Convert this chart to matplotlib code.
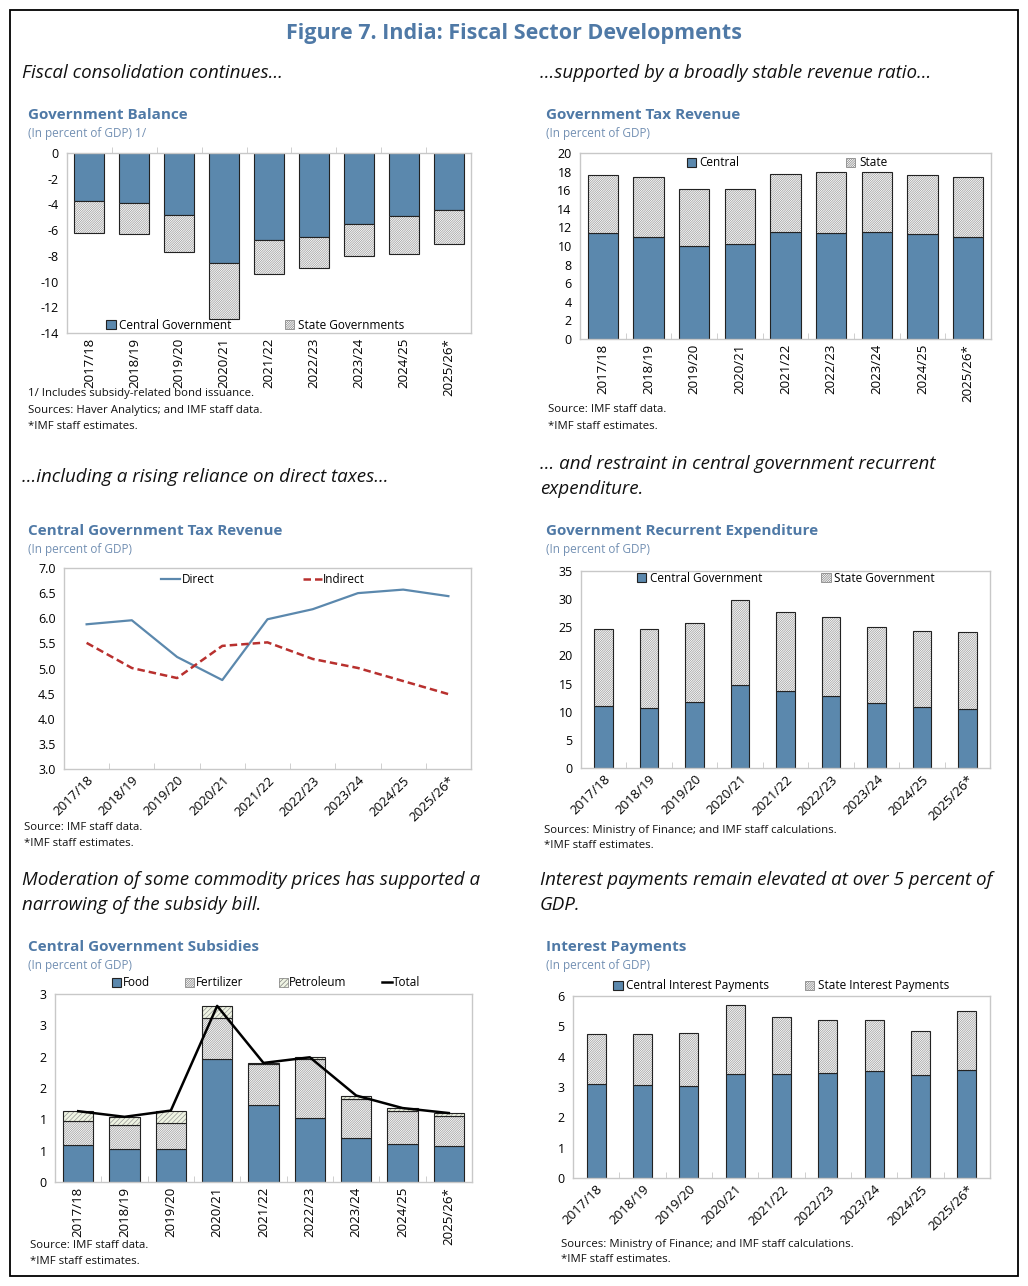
import numpy as np
import matplotlib
matplotlib.use('Agg')
import matplotlib.pyplot as plt
from matplotlib.patches import Patch, Rectangle
from matplotlib.lines import Line2D

plt.rcParams['font.family'] = ['Open Sans', 'DejaVu Sans']
plt.rcParams['axes.unicode_minus'] = False
plt.rcParams['hatch.color'] = '#8f8f8f'
plt.rcParams['hatch.linewidth'] = 0.45

years = ['2017/18', '2018/19', '2019/20', '2020/21', '2021/22',
         '2022/23', '2023/24', '2024/25', '2025/26*']

# Government balance (percent of GDP)
bal_central = [-3.72, -3.90, -4.80, -8.55, -6.74, -6.56, -5.50, -4.90, -4.42]
bal_state = [-2.48, -2.43, -2.90, -4.35, -2.69, -2.41, -2.54, -2.98, -2.68]

# Government tax revenue
tax_central = [11.36, 11.00, 10.04, 10.20, 11.50, 11.36, 11.50, 11.30, 10.93]
tax_state = [6.31, 6.45, 6.09, 5.93, 6.28, 6.60, 6.50, 6.33, 6.49]

# Central government tax revenue
direct = [5.88, 5.96, 5.23, 4.77, 5.98, 6.18, 6.50, 6.57, 6.44]
indirect = [5.51, 5.01, 4.81, 5.45, 5.52, 5.19, 5.01, 4.75, 4.49]

# Recurrent expenditure
rec_central = [11.00, 10.64, 11.70, 14.78, 13.60, 12.83, 11.59, 10.88, 10.47]
rec_state = [13.78, 14.02, 14.02, 15.02, 14.19, 13.96, 13.48, 13.42, 13.66]

# Subsidies
food = [0.59, 0.53, 0.53, 1.97, 1.23, 1.02, 0.71, 0.61, 0.57]
fertilizer = [0.39, 0.38, 0.41, 0.64, 0.65, 0.94, 0.62, 0.52, 0.49]
petroleum = [0.15, 0.13, 0.20, 0.20, 0.02, 0.03, 0.05, 0.05, 0.04]
sub_ticklabels = ['0', '1', '1', '2', '2', '3', '3']

# Interest payments
int_central = [3.10, 3.08, 3.04, 3.44, 3.42, 3.47, 3.54, 3.38, 3.56]
int_state = [1.65, 1.67, 1.73, 2.27, 1.88, 1.74, 1.67, 1.48, 1.93]

BLUE = '#5b88ad'
TITLE = '#4f79a6'
SUB = '#7390b3'
GRID = '#c8c8c8'
HATCH = '/' * 15
HATCH_LIGHT = '/' * 7

W, H = 1028, 1286
fig = plt.figure(figsize=(W / 100, H / 100), dpi=100)
fig.patches.append(Rectangle((10 / W, 1 - 1276 / H), 1008 / W, 1266 / H,
                             transform=fig.transFigure, fill=False,
                             edgecolor='black', linewidth=1.3))


def fx(x):
    return x / W


def fy(y):
    return 1 - y / H


def txt(x, y, s, **kw):
    fig.text(fx(x), fy(y), s, va='center', **kw)


def make_ax(l, t, r, b):
    ax = fig.add_axes([fx(l), fy(b), (r - l) / W, (b - t) / H])
    for sp in ax.spines.values():
        sp.set_color(GRID)
        sp.set_linewidth(1.0)
    ax.tick_params(axis='y', length=0, labelsize=9, pad=6)
    ax.tick_params(axis='x', length=0, labelsize=9.5)
    return ax


def cat_ticks(ax, rot, top=False):
    x = np.arange(len(years))
    ax.set_xlim(-0.5, len(years) - 0.5)
    ax.set_xticks(x)
    if rot == 90:
        ax.set_xticklabels(years, rotation=90, ha='center', va='top')
    else:
        ax.set_xticklabels(years, rotation=45, ha='right', va='top',
                           rotation_mode='anchor')
    ax.set_xticks(np.arange(0.5, len(years) - 0.5), minor=True)
    ax.tick_params(axis='x', which='minor', length=4, color=GRID,
                   direction='in' if not top else 'out',
                   top=top, bottom=not top)


def hatched(ax, x, h, bottom, width, face='white', hatch=HATCH):
    ax.bar(x, h, width, bottom=bottom, color=face, hatch=hatch, linewidth=0)
    ax.bar(x, h, width, bottom=bottom, fill=False, edgecolor='#222222',
           linewidth=0.8)


def solid(ax, x, h, width, bottom=0):
    ax.bar(x, h, width, bottom=bottom, color=BLUE, edgecolor='#222222',
           linewidth=0.8)


def sq_hatch(face='white', hatch=HATCH):
    return Patch(facecolor=face, edgecolor='#777777', hatch=hatch, linewidth=0.5)


def sq_blue():
    return Patch(facecolor=BLUE, edgecolor='#222222', linewidth=0.8)


def leg(ax, handles, labels, cx, cy, spacing, fs=8.5, hl=0.8, pad=0.3):
    ax.legend(handles, labels, loc='center', bbox_to_anchor=(fx(cx), fy(cy)),
              bbox_transform=fig.transFigure, ncol=len(handles), frameon=False,
              fontsize=fs, handlelength=hl, handleheight=0.8,
              handletextpad=pad, columnspacing=spacing, borderpad=0,
              borderaxespad=0)


# Header texts
txt(514, 33, 'Figure 7. India: Fiscal Sector Developments', ha='center',
    fontsize=15.5, fontweight='bold', color=TITLE)
cap = dict(fontsize=13.5, style='italic', color='#111111')
txt(22, 73, 'Fiscal consolidation continues…', **cap)
txt(540, 73, '…supported by a broadly stable revenue ratio…', **cap)
txt(22, 477, '…including a rising reliance on direct taxes…', **cap)
txt(540, 464, '… and restraint in central government recurrent', **cap)
txt(540, 489, 'expenditure.', **cap)
txt(22, 880, 'Moderation of some commodity prices has supported a', **cap)
txt(22, 905, 'narrowing of the subsidy bill.', **cap)
txt(540, 880, 'Interest payments remain elevated at over 5 percent of', **cap)
txt(540, 905, 'GDP.', **cap)

ptitle = dict(fontsize=11, fontweight='bold', color=TITLE)
psub = dict(fontsize=8.5, color=SUB)
note = dict(fontsize=8.2, color='#111111')

x = np.arange(len(years))

# Panel 1: Government balance
txt(28, 115, 'Government Balance', **ptitle)
txt(28, 134, '(In percent of GDP) 1/', **psub)
ax = make_ax(67, 153, 471, 333)
solid(ax, x, bal_central, 0.67)
hatched(ax, x, bal_state, bal_central, 0.67)
ax.set_ylim(-14, 0)
ax.set_yticks(np.arange(-14, 1, 2))
cat_ticks(ax, 90, top=True)
leg(ax, [sq_blue(), sq_hatch()], ['Central Government', 'State Governments'],
    255, 325, 4.5)
txt(28, 394, '1/ Includes subsidy-related bond issuance.', **note)
txt(28, 410, 'Sources: Haver Analytics; and IMF staff data.', **note)
txt(28, 427, '*IMF staff estimates.', **note)

# Panel 2: Government tax revenue
txt(546, 115, 'Government Tax Revenue', **ptitle)
txt(546, 134, '(In percent of GDP)', **psub)
ax = make_ax(580, 153, 991, 339)
solid(ax, x, tax_central, 0.67)
hatched(ax, x, tax_state, tax_central, 0.67)
ax.set_ylim(0, 20)
ax.set_yticks(np.arange(0, 21, 2))
cat_ticks(ax, 90)
leg(ax, [sq_blue(), sq_hatch()], ['Central', 'State'], 787, 163, 9.0)
txt(548, 410, 'Source: IMF staff data.', **note)
txt(548, 427, '*IMF staff estimates.', **note)

# Panel 3: Central government tax revenue
txt(28, 531, 'Central Government Tax Revenue', **ptitle)
txt(28, 549, '(In percent of GDP)', **psub)
ax = make_ax(64, 568, 471, 769)
ax.plot(x, direct, color=BLUE, linewidth=1.6, label='Direct')
ax.plot(x, indirect, color='#b8302e', linewidth=1.8, linestyle=(0, (3, 1.6)),
        label='Indirect')
ax.set_ylim(3, 7)
ax.set_yticks(np.arange(3, 7.01, 0.5))
ax.set_yticklabels(['%.1f' % v for v in np.arange(3, 7.01, 0.5)])
cat_ticks(ax, 45)
h3 = [Line2D([], [], color=BLUE, linewidth=1.6),
      Line2D([], [], color='#b8302e', linewidth=1.8, linestyle=(0, (3, 1.6)))]
leg(ax, h3, ['Direct', 'Indirect'], 263, 580, 7.5, hl=1.6, pad=0.1)
txt(24, 827, 'Source: IMF staff data.', **note)
txt(24, 843, '*IMF staff estimates.', **note)

# Panel 4: Recurrent expenditure
txt(546, 531, 'Government Recurrent Expenditure', **ptitle)
txt(546, 549, '(In percent of GDP)', **psub)
ax = make_ax(581, 571, 990, 768)
solid(ax, x, rec_central, 0.41)
hatched(ax, x, rec_state, rec_central, 0.41)
ax.set_ylim(0, 35)
ax.set_yticks(np.arange(0, 36, 5))
cat_ticks(ax, 45)
leg(ax, [sq_blue(), sq_hatch()], ['Central Government', 'State Government'],
    786, 578, 5.0)
txt(544, 830, 'Sources: Ministry of Finance; and IMF staff calculations.', **note)
txt(544, 846, '*IMF staff estimates.', **note)

# Panel 5: Subsidies
txt(28, 947, 'Central Government Subsidies', **ptitle)
txt(28, 965, '(In percent of GDP)', **psub)
ax = make_ax(55, 994, 472, 1182)
food_a = np.array(food)
fert_a = np.array(fertilizer)
pet_a = np.array(petroleum)
total = food_a + fert_a + pet_a
solid(ax, x, food_a, 0.65)
hatched(ax, x, fert_a, food_a, 0.65)
hatched(ax, x, pet_a, food_a + fert_a, 0.65, face='#eef3e2', hatch=HATCH_LIGHT)
ax.plot(x, total, color='black', linewidth=1.8)
ax.set_ylim(0, 3)
ax.set_yticks(np.arange(0, 3.01, 0.5))
ax.set_yticklabels(sub_ticklabels)
cat_ticks(ax, 90)
h5 = [sq_blue(), sq_hatch(), sq_hatch('#eef3e2', HATCH_LIGHT),
      Line2D([], [], color='black', linewidth=1.8)]
leg(ax, h5, ['Food', 'Fertilizer', 'Petroleum', 'Total'], 266, 983, 3.0,
    pad=0.1)
txt(30, 1245, 'Source: IMF staff data.', **note)
txt(30, 1262, '*IMF staff estimates.', **note)

# Panel 6: Interest payments
txt(546, 947, 'Interest Payments', **ptitle)
txt(546, 965, '(In percent of GDP)', **psub)
ax = make_ax(573, 996, 990, 1178)
solid(ax, x, int_central, 0.41)
hatched(ax, x, int_state, int_central, 0.41)
ax.set_ylim(0, 6)
ax.set_yticks(np.arange(0, 7, 1))
cat_ticks(ax, 45)
leg(ax, [sq_blue(), sq_hatch()],
    ['Central Interest Payments', 'State Interest Payments'], 781, 986, 3.0)
txt(561, 1244, 'Sources: Ministry of Finance; and IMF staff calculations.', **note)
txt(561, 1260, '*IMF staff estimates.', **note)

fig.savefig('out.png', dpi=100)
